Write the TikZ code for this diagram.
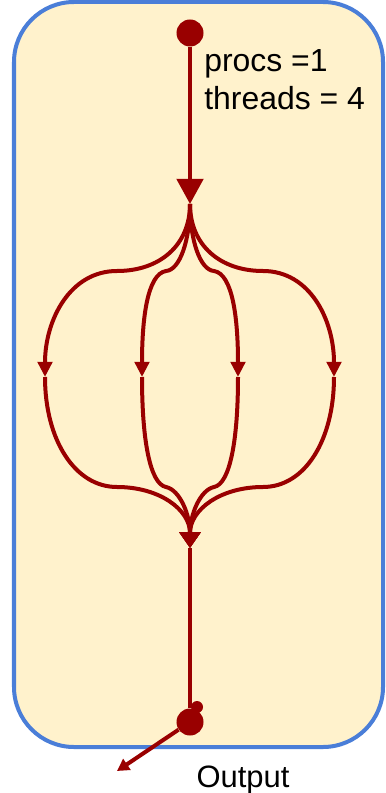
\documentclass[tikz,border=0pt]{standalone}
\usepackage{fontspec}
\setmainfont{Liberation Sans}
\usetikzlibrary{arrows.meta, positioning}
\definecolor{flowred}{RGB}{153,0,0}
\definecolor{boxblue}{RGB}{74,126,216}
\definecolor{boxfill}{RGB}{255,242,204}
\tikzset{
  frame/.style={
    draw=boxblue, fill=boxfill, line width=0.1cm,
    rounded corners=1.5cm
  },
  dot/.style={
    circle, fill=flowred, inner sep=0pt, minimum size=0.675cm
  },
  smalldot/.style={
    circle, fill=flowred, inner sep=0pt, minimum size=0.3cm
  },
  flow/.style={draw=flowred, line width=0.1cm},
  bigarrow/.style={flow, -{Triangle[width=0.66cm, length=0.63cm]}},
  midarrow/.style={flow, -{Triangle[width=0.36cm, length=0.38cm]}},
  joinarrow/.style={flow, -{Triangle[width=0.52cm, length=0.4cm]}},
  outarrow/.style={flow, -{Triangle[width=0.32cm, length=0.3cm]}},
  infotext/.style={
    font=\fontsize{22.7}{27}\selectfont, inner sep=0pt, anchor=base west
  },
}

\begin{document}
\begin{tikzpicture}[x=0.025cm, y=-0.025cm]
  \useasboundingbox (0,0) rectangle (386,793);
  \draw [frame] (14,2) rectangle (383,747);

  \node (start)   [dot]      at (190,33)  {};
  \coordinate (fork)  at (190,204);
  \coordinate (m1)    at (45,377);
  \coordinate (m2)    at (142,377);
  \coordinate (m3)    at (238,377);
  \coordinate (m4)    at (334,377);
  \coordinate (join)  at (190,548);
  \node (stop)    [dot]      at (190,722) {};
  \node (tail)    [smalldot] at (197,707) {};
  \coordinate (out)   at (117,771);

  \node (procs)   [infotext] at (204,72)  {procs =1};
  \node (threads) [infotext] at (204,110) {threads = 4};
  \node (outlbl)  [infotext, font=\fontsize{22}{26}\selectfont, anchor=base]
        at (243,787) {Output};

  \draw [bigarrow] (start) -- (fork);
  % split into four threads
  \draw [midarrow] (fork) .. controls (190,245) and (160,271) .. (117,271)
                          .. controls (70,271) and (45,320) .. (m1);
  \draw [midarrow] (fork) .. controls (190,240) and (180,270) .. (166,271)
                          .. controls (147,274) and (142,320) .. (m2);
  \draw [midarrow] (fork) .. controls (190,240) and (200,270) .. (214,271)
                          .. controls (233,274) and (238,320) .. (m3);
  \draw [midarrow] (fork) .. controls (190,245) and (220,271) .. (263,271)
                          .. controls (310,271) and (334,320) .. (m4);
  % join the threads
  \draw [joinarrow] (m1) .. controls (45,440) and (75,487) .. (117,487)
                         .. controls (160,487) and (190,510) .. (join);
  \draw [joinarrow] (m2) .. controls (142,440) and (150,484) .. (166,487)
                         .. controls (180,490) and (190,515) .. (join);
  \draw [joinarrow] (m3) .. controls (238,440) and (230,484) .. (214,487)
                         .. controls (200,490) and (190,515) .. (join);
  \draw [joinarrow] (m4) .. controls (334,440) and (305,487) .. (263,487)
                         .. controls (220,487) and (190,510) .. (join);

  \draw [flow, line width=0.085cm] (join) -- (stop);
  \draw [outarrow] (stop) -- (out);
\end{tikzpicture}
\end{document}
